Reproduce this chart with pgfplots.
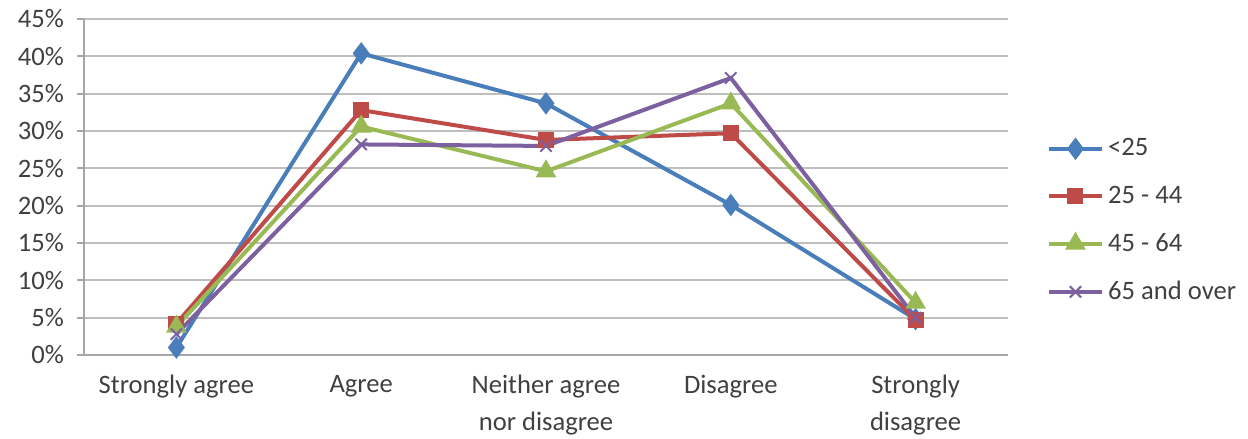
\documentclass[border=0pt]{standalone}
\usepackage{pgfplots}
\pgfplotsset{compat=1.18}
\usepackage{fontspec}
\setmainfont{Carlito}
\definecolor{cBlue}{HTML}{4A7EBB}
\definecolor{cRed}{HTML}{BE4B48}
\definecolor{cGreen}{HTML}{98B954}
\definecolor{cPurple}{HTML}{7D60A0}
\definecolor{cAxis}{HTML}{A6A6A6}
\definecolor{cGrid}{HTML}{BEBEBE}
\definecolor{cText}{HTML}{404040}
\begin{document}
\begin{tikzpicture}
\path[use as bounding box] (-42pt,-42pt) rectangle (582pt,177.5pt);
\begin{axis}[
  at={(0,0)}, anchor=south west,
  scale only axis, width=462pt, height=168pt,
  xmin=-0.5, xmax=4.5, ymin=0, ymax=45,
  clip=false,
  axis line style={draw=none},
  xtick pos=bottom, ytick pos=left,
  xtick={0,1,2,3,4},
  xticklabels={Strongly agree, Agree, {Neither agree\\nor disagree}, Disagree, {Strongly\\disagree}},
  xticklabel style={align=center, font=\fontsize{13.3}{18.5}\selectfont, text=cText, yshift=-3pt},
  major x tick style={draw=none},
  extra x ticks={-0.5,0.5,1.5,2.5,3.5,4.5},
  extra x tick labels={},
  extra x tick style={major x tick style={cAxis, line width=0.9pt}, grid=none},
  ytick={0,5,...,45},
  yticklabel={\pgfmathprintnumber{\tick}\%},
  yticklabel style={font=\fontsize{13.3}{16}\selectfont, text=cText, xshift=-3pt},
  /pgf/number format/assume math mode=true,
  major tick length=3.5pt,
  tick align=outside,
  major y tick style={cAxis, line width=0.9pt},
  legend style={at={(1.035,0.40)}, anchor=west, draw=none, fill=none,
    font=\fontsize{13.3}{16}\selectfont, text=cText, row sep=9.5pt},
  legend cell align=left,
  legend image code/.code={\draw[#1, mark repeat=2, mark phase=2] plot coordinates {(0cm,0cm) (0.47cm,0cm) (0.94cm,0cm)};},
]
\pgfplotsinvokeforeach{5,10,15,20,25,30,35,40,45}{
  \draw[cGrid, line width=0.9pt] (axis cs:-0.5,#1) -- (axis cs:4.5,#1);
}
\draw[cAxis, line width=0.9pt] (axis cs:-0.5,45) -- (axis cs:-0.5,0) -- (axis cs:4.5,0);
\addplot[cBlue, line width=2pt, mark=diamond*, mark size=4pt, mark options={solid, fill=cBlue}] coordinates {
(0,1.0) (1,40.4) (2,33.7) (3,20.1) (4,4.8)};
\addlegendentry{<25}
\addplot[cRed, line width=2pt, mark=square*, mark size=3pt, mark options={solid, fill=cRed}] coordinates {
(0,4.2) (1,32.8) (2,28.8) (3,29.7) (4,4.7)};
\addlegendentry{25 - 44}
\addplot[cGreen, line width=2pt, mark=triangle*, mark size=4pt, mark options={solid, fill=cGreen}] coordinates {
(0,3.8) (1,30.6) (2,24.6) (3,33.7) (4,7.0)};
\addlegendentry{45 - 64}
\addplot[cPurple, line width=2pt, mark=x, mark size=4pt, mark options={solid, line width=1pt}] coordinates {
(0,2.8) (1,28.2) (2,28.0) (3,37.1) (4,5.0)};
\addlegendentry{65 and over}
\end{axis}
\end{tikzpicture}
\end{document}
